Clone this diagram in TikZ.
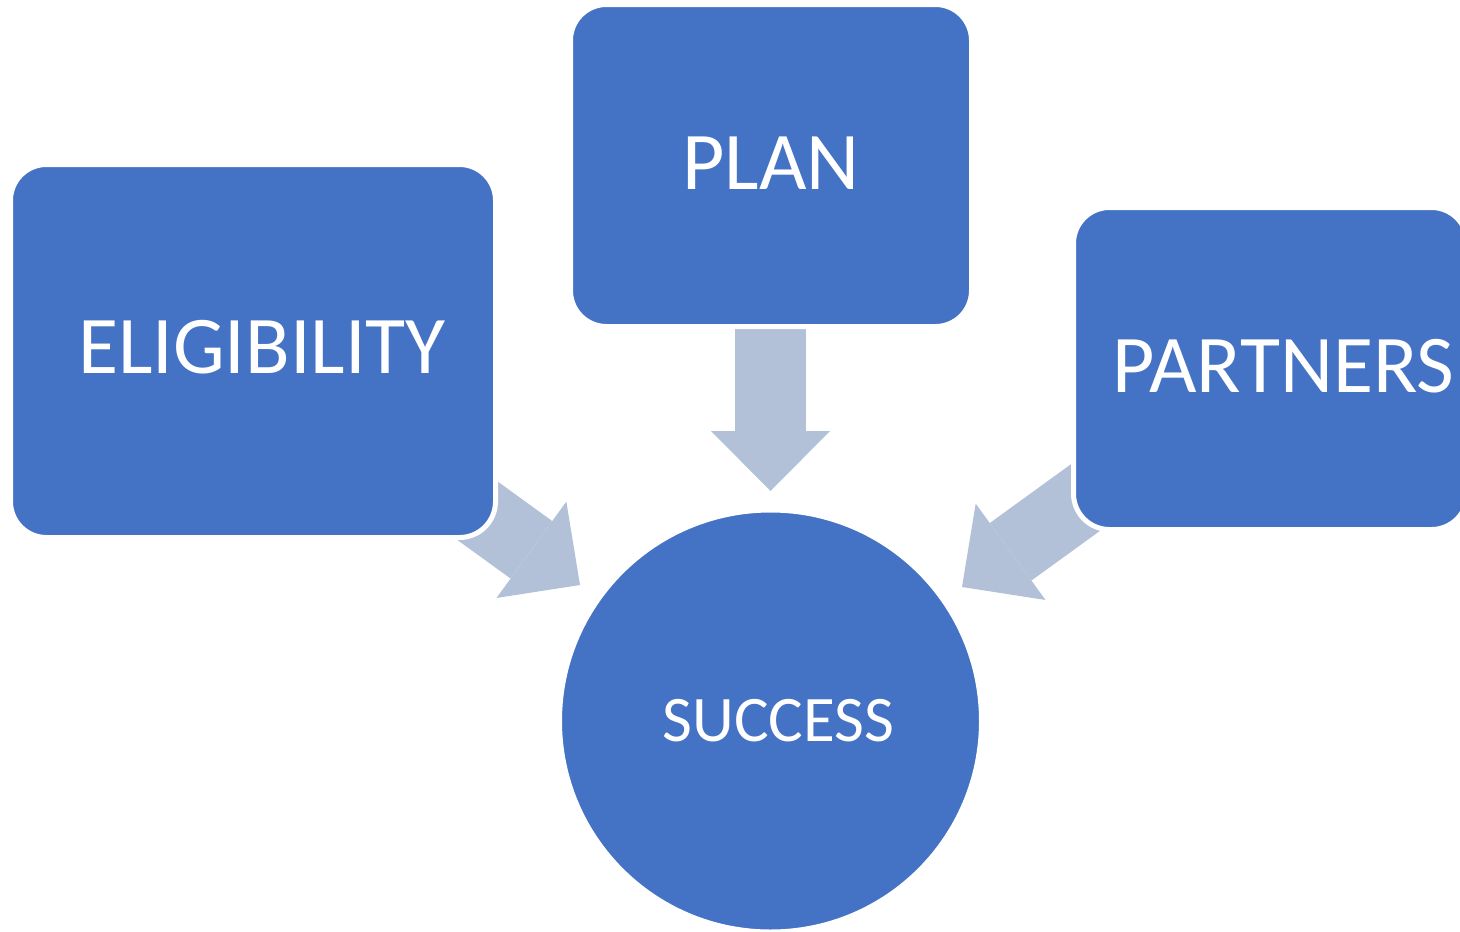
\documentclass[tikz,border=0pt]{standalone}
\usepackage{fontspec}
\setmainfont{Carlito}
\usepackage{tikz}
\usetikzlibrary{arrows.meta, backgrounds}
\definecolor{boxblue}{RGB}{68,114,196}
\definecolor{flowgrey}{RGB}{178,193,216}

\begin{document}
\begin{tikzpicture}[x=1pt, y=-1pt,
  box/.style={draw=white, line width=5pt, fill=boxblue, rounded corners=36pt,
    inner sep=0pt, outer sep=0pt},
  boxtext/.style={text=white, inner sep=0pt, font=\fontsize{82}{90}\selectfont},
  goal/.style={circle, draw=white, line width=5pt, fill=boxblue,
    minimum size=422pt, inner sep=0pt},
  goaltext/.style={text=white, inner sep=0pt, font=\fontsize{65}{72}\selectfont},
  flow/.style={draw=flowgrey, line width=71pt,
    -{Triangle[length=60pt, width=119pt, line width=0pt]}}]
  \useasboundingbox (0,0) rectangle (1460,932);
\clip (0,0) rectangle (1460,932);
\node[box, minimum width=485pt, minimum height=373pt,%
label={[boxtext, xshift=9pt, yshift=4pt]center:ELIGIBILITY}] (elig) at (253,351) {};
\node[box, minimum width=401pt, minimum height=322pt,%
label={[boxtext, yshift=2pt]center:PLAN}] (plan) at (771,165.5) {};
\node[box, minimum width=394pt, minimum height=322pt,%
label={[boxtext, xshift=13pt, yshift=2pt]center:PARTNERS}] (partners) at (1270.5,368.5) {};
\node[goal, label={[goaltext, xshift=8pt]center:SUCCESS}] (success) at (770.5,721) {};
\coordinate (planTail) at (770.5,329);
\coordinate (planTip) at (770.5,491);
\coordinate (eligTail) at (442,485);
\coordinate (eligTip) at (580,585);
\coordinate (partTail) at (1100,487);
\coordinate (partTip) at (962,587);
\begin{scope}[on background layer]
\draw[flow] (planTail) -- (planTip);
\draw[flow] (eligTail) -- (eligTip);
\draw[flow] (partTail) -- (partTip);
\end{scope}
    \end{tikzpicture}
\end{document}
